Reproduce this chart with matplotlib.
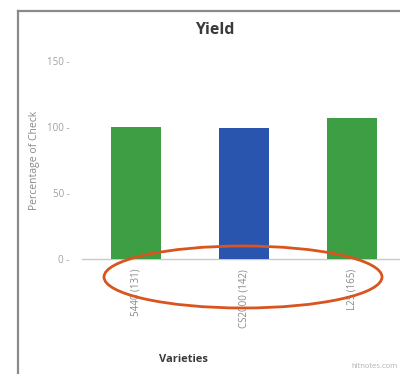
import matplotlib
matplotlib.use("Agg")
import matplotlib.pyplot as plt
from matplotlib.patches import Ellipse
from matplotlib.lines import Line2D

# Data
varieties = ["5440", "CS2000", "L25"]
counts = ["(131)", "(142)", "(165)"]
pct_of_check = [100, 99, 107]
bar_colors = ["#3d9e44", "#2a55ae", "#3d9e44"]
y_ticks = [0, 50, 100, 150]

W, H = 400, 374
fig = plt.figure(figsize=(W / 100, H / 100), dpi=100)
fig.patch.set_facecolor("white")

def fx(px):
    return px / W

def fy(py):
    return 1 - py / H

# Outer panel frame (left and top edges)
fig.add_artist(Line2D([fx(18), fx(18)], [fy(11), fy(374)], color="#8a8a8a", lw=1.6))
fig.add_artist(Line2D([fx(18), fx(400)], [fy(11), fy(11)], color="#8a8a8a", lw=1.6))

# Plot area: 0 at y=259, 150 at y=61
y0_px, y150_px = 259, 61
per_unit = (y0_px - y150_px) / 150
ymax = 160
top_px = y0_px - ymax * per_unit
ax = fig.add_axes([fx(82), fy(y0_px), (406 - 82) / W, (y0_px - top_px) / H])
ax.set_facecolor("none")

x = range(len(varieties))
ax.bar(x, pct_of_check, width=0.47, color=bar_colors, zorder=3)
ax.set_xlim(-0.5, 2.5)
ax.set_ylim(0, ymax)

for s in ["top", "right", "left"]:
    ax.spines[s].set_visible(False)
ax.spines["bottom"].set_color("#c8c8c8")
ax.spines["bottom"].set_linewidth(1.0)

ax.set_yticks(y_ticks)
ax.set_yticklabels([f"{v} -" for v in y_ticks], fontsize=7, color="#a0a0a0",
                   family="Open Sans")
ax.tick_params(axis="y", length=0, pad=9)
ax.tick_params(axis="x", length=0)
ax.set_xticks(list(x))
ax.set_xticklabels([""] * len(varieties))

# Rotated category labels
for i, (name, cnt) in enumerate(zip(varieties, counts)):
    ax.annotate(f"{name} {cnt}", xy=(i, 0), xycoords="data",
                xytext=(0, -7), textcoords="offset points",
                rotation=90, ha="center", va="top", fontsize=7,
                color="#8a8a8a", family="Open Sans")

fig.text(fx(35), fy(160), "Percentage of Check", rotation=90, ha="center",
         va="center", fontsize=7.5, color="#8a8a8a", family="Open Sans")
fig.text(fx(215), fy(30), "Yield", ha="center", va="center", fontsize=11.5,
         fontweight="bold", color="#3a3a3a", family="Open Sans")
fig.text(fx(183), fy(360), "Varieties", ha="center", va="center", fontsize=8,
         fontweight="bold", color="#3a3a3a", family="Open Sans")
fig.text(fx(398), fy(367), "hitnotes.com", ha="right", va="center",
         fontsize=5.5, color="#b0b0b0", family="Open Sans")

# Highlight ellipse around the category labels
fig.add_artist(Ellipse((fx(243), fy(277)), width=278 / W, height=62 / H,
                       fill=False, edgecolor="#d9541e", lw=2.0,
                       transform=fig.transFigure))

fig.savefig("out.png", dpi=100, facecolor="white")
